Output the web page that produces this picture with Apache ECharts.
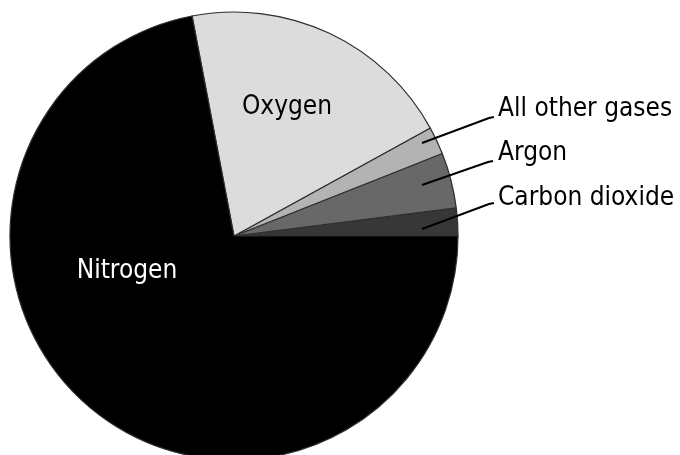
<!DOCTYPE html>
<html>
<head>
<meta charset="utf-8">
<title>Composition of air</title>
<script src="https://cdn.jsdelivr.net/npm/echarts@6/dist/echarts.min.js"></script>
<style>
  html, body { margin: 0; padding: 0; background: #ffffff; }
  #chart { width: 680px; height: 455px; }
</style>
</head>
<body>
<div id="chart"></div>
<script>
// Gas shares of dry air (percent), listed counter-clockwise from 3 o'clock
const gases = ['Carbon dioxide', 'Argon', 'All other gases', 'Oxygen', 'Nitrogen'];
const shares = [2, 4, 2, 20, 72];
const shades = ['#373737', '#686868', '#b3b3b3', '#dcdcdc', '#000000'];

// Which labels sit inside their slice and which use a leader line
const insideLabels = ['Oxygen', 'Nitrogen'];

const FONT = '"DejaVu Sans Condensed", "DejaVu Sans", sans-serif';

// Label placement: inside labels get a text anchor, outside labels get
// a text anchor plus the three points of their leader line.
const labelPlacement = {
  'Oxygen':          { x: 287, y: 107 },
  'Nitrogen':        { x: 127, y: 271 },
  'All other gases': { x: 498, y: 109, line: [[422, 143], [489, 118], [494, 117]] },
  'Argon':           { x: 498, y: 153, line: [[422, 185], [488, 162], [493, 161]] },
  'Carbon dioxide':  { x: 498, y: 198, line: [[422, 229], [489, 204], [494, 203]] }
};

const PIE_CENTER = [234, 236];
const PIE_RADIUS = [0, 224];

const chart = echarts.init(document.getElementById('chart'), null, { renderer: 'canvas' });

// The slices themselves
const sliceData = gases.map((name, i) => ({
  name: name,
  value: shares[i],
  itemStyle: { color: shades[i] }
}));

// Same slices again, invisible, carrying the labels and leader lines so
// that the lines are painted on top of the filled slices
const labelData = gases.map((name, i) => {
  const inside = insideLabels.includes(name);
  return {
    name: name,
    value: shares[i],
    itemStyle: { color: 'rgba(0,0,0,0)', borderWidth: 0 },
    label: {
      show: true,
      position: inside ? 'inside' : 'outside',
      color: name === 'Nitrogen' ? '#ffffff' : '#000000'
    },
    labelLine: {
      show: !inside,
      smooth: false,
      lineStyle: { color: '#000000', width: 2 }
    }
  };
});

chart.setOption({
  animation: false,
  backgroundColor: '#ffffff',
  series: [{
    type: 'pie',
    z: 2,
    center: PIE_CENTER,
    radius: PIE_RADIUS,
    startAngle: 0,
    clockwise: false,
    silent: true,
    itemStyle: { borderColor: '#2e2e2e', borderWidth: 1.2 },
    emphasis: { disabled: true },
    label: { show: false },
    labelLine: { show: false },
    data: sliceData
  }, {
    type: 'pie',
    z: 5,
    center: PIE_CENTER,
    radius: PIE_RADIUS,
    startAngle: 0,
    clockwise: false,
    silent: true,
    avoidLabelOverlap: false,
    emphasis: { disabled: true },
    label: {
      formatter: '{b}',
      fontFamily: FONT,
      fontSize: 26,
      fontWeight: 'normal'
    },
    labelLayout: function (params) {
      const name = gases[params.dataIndex];
      const p = labelPlacement[name];
      if (p.line) {
        return {
          x: p.x, y: p.y, align: 'left', verticalAlign: 'middle',
          labelLinePoints: p.line
        };
      }
      return { x: p.x, y: p.y, align: 'center', verticalAlign: 'middle' };
    },
    data: labelData
  }]
});
</script>
</body>
</html>
